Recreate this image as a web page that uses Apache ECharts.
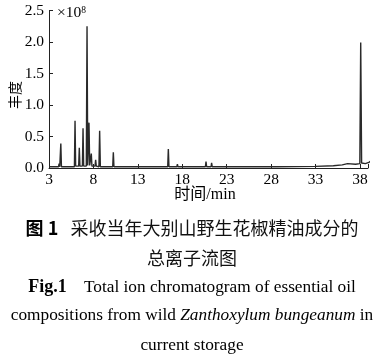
<!DOCTYPE html>
<html><head><meta charset="utf-8">
<script src="https://cdn.jsdelivr.net/npm/echarts@6/dist/echarts.min.js"></script>
<style>html,body{margin:0;padding:0;background:#fff}#c{width:383px;height:355px}</style>
</head><body><div id="c"></div>
<script>
// Retention times (min) and abundance (x1e8)
const times = [3.0,4.07,4.14,4.21,4.26,4.33,4.4,5.45,5.5,5.55,5.86,5.93,6.0,6.34,6.41,6.48,6.76,6.83,6.9,7.2,7.28,7.36,7.43,7.5,7.58,7.69,7.76,7.83,8.18,8.25,8.32,8.62,8.7,8.78,10.17,10.24,10.31,10.54,10.6,10.66,11.5,11.6,11.7,16.36,16.43,16.5,17.39,17.45,17.51,17.81,17.87,17.93,19.9,20.1,20.3,20.6,20.67,20.74,21.24,21.3,21.37,23.9,24.1,24.3,28.7,28.8,28.9,33.0,35.0,36.0,36.6,36.7,36.8,37.5,37.98,38.08,38.18,38.6,39.0,39.3,39.6,39.85];
const abundance = [0.02,0.02,0.07,0.02,0.02,0.39,0.02,0.02,0.03,0.02,0.02,0.75,0.03,0.03,0.32,0.03,0.03,0.63,0.03,0.03,2.25,0.04,0.04,0.72,0.04,0.03,0.23,0.03,0.03,0.13,0.03,0.02,0.59,0.02,0.02,0.25,0.02,0.02,0.05,0.02,0.02,0.025,0.02,0.02,0.30,0.02,0.02,0.06,0.02,0.02,0.04,0.02,0.02,0.04,0.02,0.02,0.10,0.02,0.02,0.08,0.02,0.02,0.035,0.02,0.02,0.03,0.02,0.025,0.035,0.05,0.07,0.09,0.06,0.06,0.07,1.99,0.08,0.07,0.09,0.12,0.16,0.2];
const xTicks = [3,8,13,18,23,28,33,38];
const yTicks = [0,0.5,1.0,1.5,2.0,2.5];

const serif = '"Liberation Serif","DejaVu Serif",serif';
const cjk = '"Noto Sans CJK SC",sans-serif';
const mixed = '"Liberation Serif","Noto Sans CJK SC",serif';
const chart = echarts.init(document.getElementById('c'));
chart.setOption({
  animation:false,
  grid:{left:49,right:15,top:10.5,bottom:187},
  xAxis:{type:'value',min:xTicks[0],max:38.9,interval:5,
    axisLine:{lineStyle:{color:'#222',width:1}},
    axisTick:{inside:true,length:4,lineStyle:{color:'#222'}},
    axisLabel:{color:'#000',fontFamily:serif,fontSize:15.5,margin:4,
      formatter:v=>xTicks.includes(v)?String(v):''},
    splitLine:{show:false}},
  yAxis:{type:'value',min:yTicks[0],max:yTicks[yTicks.length-1],interval:0.5,
    axisLine:{show:true,lineStyle:{color:'#222',width:1}},
    axisTick:{show:true,inside:true,length:4,lineStyle:{color:'#222'}},
    axisLabel:{color:'#000',fontFamily:serif,fontSize:15.5,margin:5,formatter:v=>v.toFixed(1)},
    splitLine:{show:false}},
  series:[{type:'line',data:times.map((t,i)=>[t,abundance[i]]),
    showSymbol:false,clip:false,
    lineStyle:{color:'#2a2a2a',width:1.4}}],
  graphic:[
    {type:'text',x:57,y:13,style:{text:'{m|×10}{s|8}',fontFamily:serif,fontSize:15,fill:'#000',verticalAlign:'middle',
      rich:{m:{fontSize:15.5,fontFamily:serif,fill:'#000',verticalAlign:'bottom'},s:{fontSize:9.5,fontFamily:serif,verticalAlign:'top',fill:'#000'}}}},
    {type:'text',x:15,y:95,rotation:Math.PI/2,style:{text:'丰度',fontFamily:cjk,fontSize:14,fill:'#000',align:'center',verticalAlign:'middle'}},
    {type:'text',x:205,y:195,style:{text:'时间/min',fontFamily:mixed,fontSize:16,fill:'#000',align:'center',verticalAlign:'middle'}},
    {type:'text',x:192,y:228,style:{text:'{b|图 1}{n|   采收当年大别山野生花椒精油成分的}',fontFamily:cjk,fontSize:18,fill:'#111',align:'center',verticalAlign:'middle',
      rich:{b:{fontFamily:cjk,fontWeight:'bold',fontSize:18,fill:'#000'},n:{fontFamily:cjk,fontSize:18,fill:'#111'}}}},
    {type:'text',x:192,y:258,style:{text:'总离子流图',fontFamily:cjk,fontSize:18,fill:'#111',align:'center',verticalAlign:'middle'}},
    {type:'text',x:192,y:287,style:{text:'{b|Fig.1}{n|    Total ion chromatogram of essential oil}',fontFamily:serif,fontSize:17.3,fill:'#000',align:'center',verticalAlign:'middle',
      rich:{b:{fontFamily:serif,fontWeight:'bold',fontSize:18,fill:'#000'},n:{fontFamily:serif,fontSize:17.3,fill:'#000'}}}},
    {type:'text',x:192,y:315,style:{text:'{n|compositions from wild }{i|Zanthoxylum bungeanum}{n| in}',fontFamily:serif,fontSize:17.3,fill:'#000',align:'center',verticalAlign:'middle',
      rich:{i:{fontFamily:serif,fontStyle:'italic',fontSize:17.3,fill:'#000'},n:{fontFamily:serif,fontSize:17.3,fill:'#000'}}}},
    {type:'text',x:192,y:345,style:{text:'current storage',fontFamily:serif,fontSize:17.3,fill:'#000',align:'center',verticalAlign:'middle'}}
  ]
});
</script></body></html>
